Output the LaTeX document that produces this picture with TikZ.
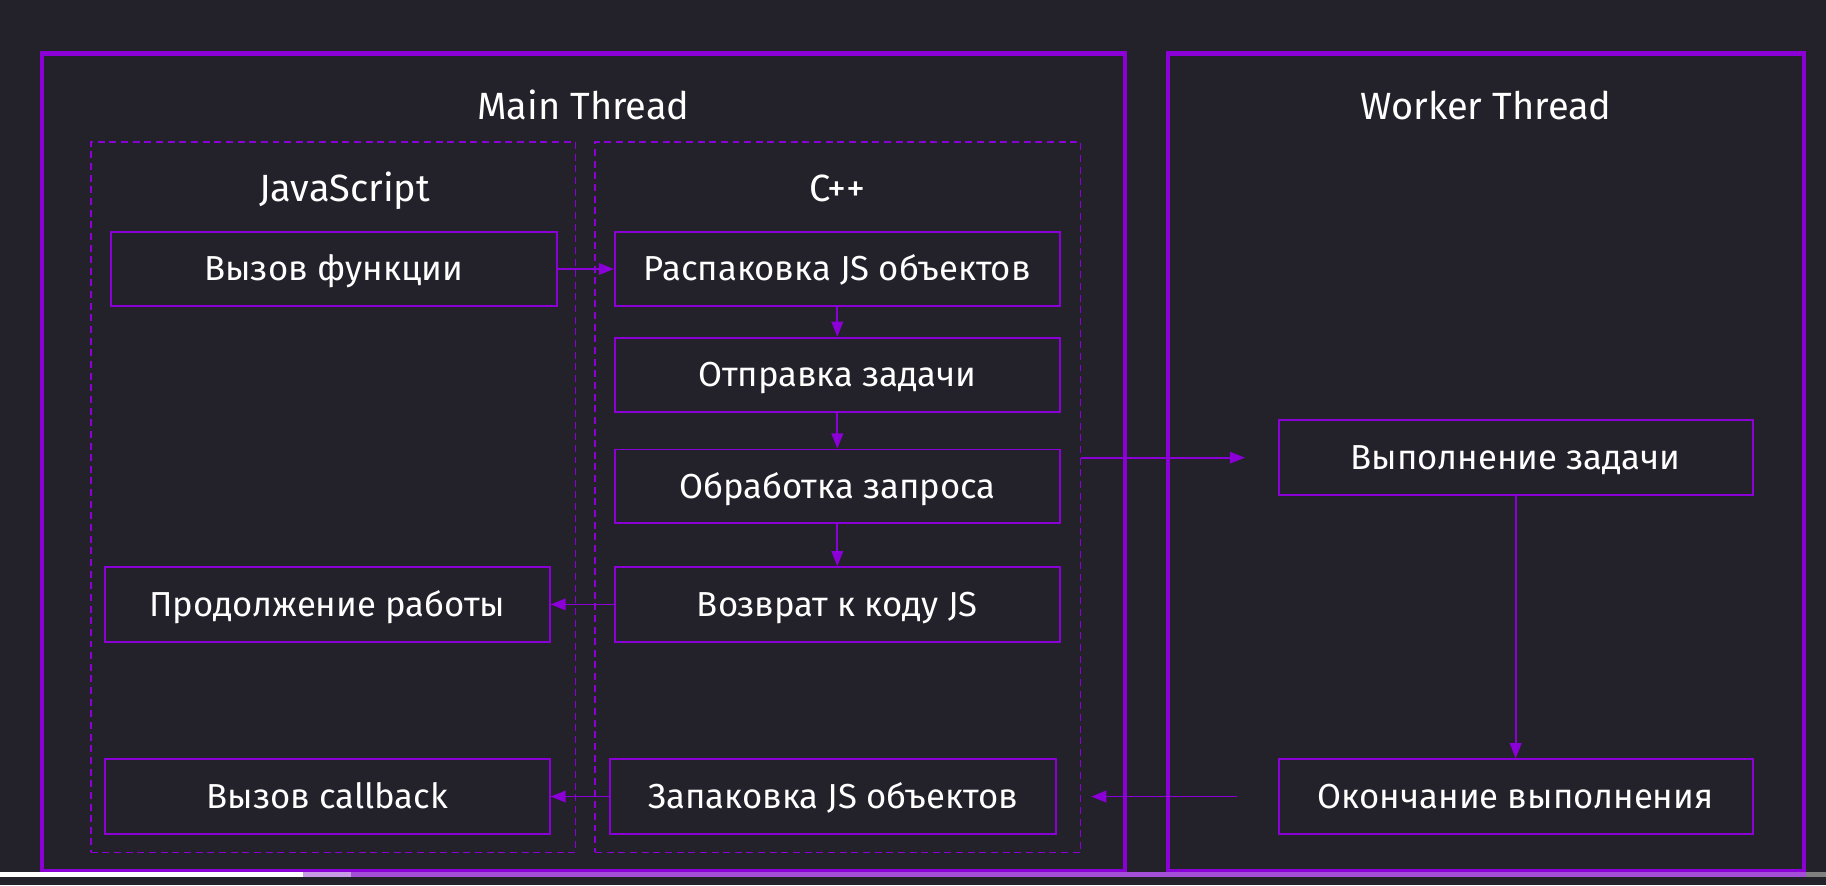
\documentclass[tikz,border=0pt]{standalone}
\usepackage{fontspec}
\setmainfont{Fira Sans}
\usetikzlibrary{arrows.meta}
\definecolor{bg}{HTML}{232129}
\definecolor{pur}{HTML}{8A00D6}
\definecolor{barwhite}{HTML}{FFFFFF}
\definecolor{barlight}{HTML}{C99BE6}
\definecolor{barpur}{HTML}{A54FD8}
\definecolor{bargrey}{HTML}{808080}
\tikzset{
  thread/.style={draw=pur, line width=4pt},
  lane/.style={draw=pur, line width=1.3pt, dash pattern=on 6pt off 4pt},
  stepbox/.style={draw=pur, line width=1.6pt, minimum width=382pt, minimum height=64pt, inner sep=0pt, text=white, font=\fontsize{29.8}{34}\selectfont, text height=20.5pt, text depth=0pt},
  title/.style={text=white, font=\fontsize{32.6}{38}\selectfont, text height=22.5pt, text depth=0pt, inner sep=0pt},
  conn/.style={draw=pur, line width=1.5pt, -{Triangle[length=13pt,width=10pt]}},
}
\begin{document}
\begin{tikzpicture}[x=1pt,y=-1pt]
\useasboundingbox (0,0) rectangle (1568,760);
\fill[bg] (0,0) rectangle (1568,760);
% thread frames
\draw[thread] (36,46) rectangle (966,748);
\draw[thread] (1003,46) rectangle (1549,748);
\node[title] (mt) at (501,91) {Main Thread};
\node[title] (wt) at (1276,91) {Worker Thread};
% lanes
\node[lane, minimum width=416pt, minimum height=610pt, inner sep=0pt] (js) at (286,427) {};
\node[lane, minimum width=417pt, minimum height=610pt, inner sep=0pt] (cpp) at (719.5,427) {};
\node[title] (jst) at (296,162) {JavaScript};
\node[title] (cppt) at (719,162) {C++};
% steps
\node[stepbox, minimum width=383pt] (call) at (286.5,231) {Вызов функции};
\node[stepbox] (unpack) at (719,231) {Распаковка JS объектов};
\node[stepbox] (send) at (719,322) {Отправка задачи};
\node[stepbox, minimum height=63pt] (proc) at (719,417.5) {Обработка запроса};
\node[stepbox] (ret) at (719,519) {Возврат к коду JS};
\node[stepbox] (cont) at (281,519) {Продолжение работы};
\node[stepbox] (cb) at (281,684) {Вызов callback};
\node[stepbox, minimum width=383pt] (pack) at (715.5,684) {Запаковка JS объектов};
\node[stepbox, minimum width=407pt] (exec) at (1301.5,393) {Выполнение задачи};
\node[stepbox, minimum width=407pt] (done) at (1301.5,684) {Окончание выполнения};
% free ends
\coordinate (toexec) at (1069,393);
\coordinate (fromdone) at (1062,684);
\coordinate (topack) at (937,684);
% connectors
\draw[conn] (call.east) -- (unpack.west);
\draw[conn] (unpack.south) -- (send.north);
\draw[conn] (send.south) -- (proc.north);
\draw[conn] (proc.south) -- (ret.north);
\draw[conn] (ret.west) -- (cont.east);
\draw[conn] (pack.west) -- (cb.east);
\draw[conn] (cpp.east |- exec.west) -- (toexec);
\draw[conn] (exec.south) -- (done.north);
\draw[conn] (fromdone) -- (topack);
% player progress bar
\fill[barwhite] (0,749) rectangle (260,753);
\fill[barlight] (260,749) rectangle (301,753);
\fill[barpur] (301,749) rectangle (1551,753);
\fill[bargrey] (1551,749) rectangle (1568,753);
\end{tikzpicture}
\end{document}
